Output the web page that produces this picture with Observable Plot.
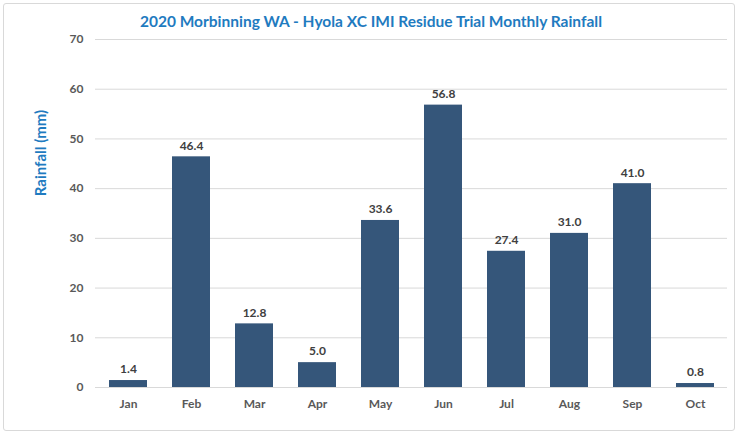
<!DOCTYPE html>
<html>
<head>
<meta charset="utf-8">
<script src="https://cdn.jsdelivr.net/npm/d3@7"></script>
<script src="https://cdn.jsdelivr.net/npm/@observablehq/plot@0.6"></script>
<style>
  html, body { margin: 0; padding: 0; background: #fff; }
  #wrap { position: relative; width: 740px; height: 435px; font-family: Lato, "Open Sans", sans-serif; }
  #frame { position: absolute; left: 3px; top: 3px; width: 732px; height: 428px; border: 1px solid #D9D9D9; border-radius: 3px; box-sizing: border-box; }
  #title { position: absolute; left: 0; top: 12px; width: 742px; text-align: center; font-size: 15.5px; font-weight: bold; color: #1F7BC0; }
  #ylabel { position: absolute; left: 40px; top: 153px; transform: translate(-50%, -50%) rotate(-90deg); white-space: nowrap; font-size: 15px; font-weight: bold; color: #1F7BC0; }
  #chart { position: absolute; left: 0; top: 0; }
</style>
</head>
<body>
<div id="wrap">
  <div id="frame"></div>
  <div id="chart"></div>
  <div id="title">2020 Morbinning WA - Hyola XC IMI Residue Trial Monthly Rainfall</div>
  <div id="ylabel"></div>
</div>
<script>
const months = ["Jan","Feb","Mar","Apr","May","Jun","Jul","Aug","Sep","Oct"];
const rainfall = [1.4, 46.4, 12.8, 5.0, 33.6, 56.8, 27.4, 31.0, 41.0, 0.8];
const yTicks = [0, 10, 20, 30, 40, 50, 60, 70];
const yLabel = "Rainfall (mm)";

const data = months.map((m, i) => ({month: m, value: rainfall[i]}));
document.getElementById("ylabel").textContent = yLabel;

const chart = Plot.plot({
  width: 740,
  height: 435,
  marginLeft: 95,
  marginRight: 13,
  marginTop: 39,
  marginBottom: 48,
  style: {fontFamily: "Lato, 'Open Sans', sans-serif", background: "transparent", overflow: "visible"},
  x: {domain: months, paddingInner: 0.4, paddingOuter: 0.2, label: null},
  y: {domain: [0, 70], label: null},
  marks: [
    Plot.gridY(yTicks, {stroke: "#D9D9D9", strokeOpacity: 1, strokeWidth: 1}),
    Plot.axisY(yTicks, {tickSize: 0, tickPadding: 12, fontSize: 12, fontWeight: "bold", fill: "#595959", label: null}),
    Plot.axisX({tickSize: 0, tickPadding: 12, fontSize: 12, fontWeight: "bold", fill: "#595959", label: null}),
    Plot.barY(data, {x: "month", y: "value", fill: "#35567A"}),
    Plot.text(data, {x: "month", y: "value", text: d => d.value.toFixed(1), dy: -11, fontSize: 12, fontWeight: "bold", fill: "#404040"})
  ]
});
document.getElementById("chart").appendChild(chart);
</script>
</body>
</html>
